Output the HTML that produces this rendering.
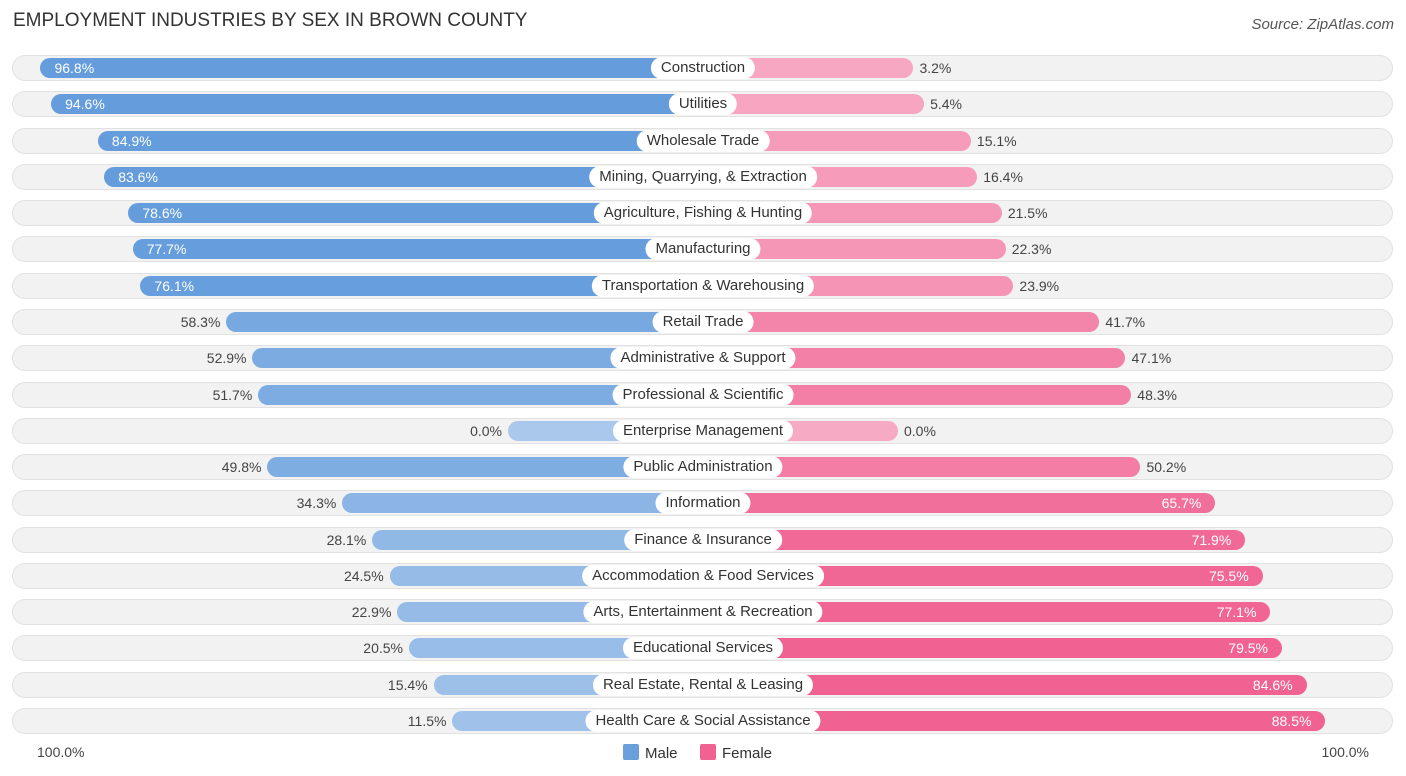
<!DOCTYPE html>
<html><head><meta charset="utf-8"><style>
body{margin:0;width:1406px;height:776px;background:#fff;font-family:"Liberation Sans",sans-serif;overflow:hidden;position:relative}
.t{position:absolute;left:13px;top:10px;font-size:19px;color:#333}
.src{position:absolute;right:12px;top:16px;font-size:15px;color:#555;font-style:italic}
.row{position:absolute;left:12px;width:1381px;height:26px;border-radius:13px;background:#f2f2f2;box-shadow:0 0 0 1px #e2e2e2 inset}
.bar{position:absolute;height:20px;border-radius:10px}
.lab{position:absolute;height:22px;line-height:22px;background:#fff;border-radius:11px;padding:0 10px;font-size:15px;color:#333;transform:translateX(-50%);white-space:nowrap}
.v{position:absolute;font-size:14px;line-height:20px;color:#444}
.ax{position:absolute;top:744px;font-size:14px;color:#444}
.lg{position:absolute;top:744px;font-size:15px;color:#333}
.sw{display:inline-block;width:16px;height:16px;border-radius:2px;vertical-align:-2px;margin-right:6px}
</style></head><body>
<div class="t">EMPLOYMENT INDUSTRIES BY SEX IN BROWN COUNTY</div>
<div class="src">Source: ZipAtlas.com</div>
<div id="rows"></div>
<div class="ax" style="left:37px">100.0%</div>
<div class="ax" style="right:37px">100.0%</div>
<div class="lg" style="left:623px"><span class="sw" style="background:#6a9fdc"></span>Male</div>
<div class="lg" style="left:700px"><span class="sw" style="background:#f06292"></span>Female</div>
<script>
const categories=["Construction","Utilities","Wholesale Trade","Mining, Quarrying, & Extraction","Agriculture, Fishing & Hunting","Manufacturing","Transportation & Warehousing","Retail Trade","Administrative & Support","Professional & Scientific","Enterprise Management","Public Administration","Information","Finance & Insurance","Accommodation & Food Services","Arts, Entertainment & Recreation","Educational Services","Real Estate, Rental & Leasing","Health Care & Social Assistance"];
const maleValues=[96.8,94.6,84.9,83.6,78.6,77.7,76.1,58.3,52.9,51.7,0.0,49.8,34.3,28.1,24.5,22.9,20.5,15.4,11.5];
const femaleValues=[3.2,5.4,15.1,16.4,21.5,22.3,23.9,41.7,47.1,48.3,0.0,50.2,65.7,71.9,75.5,77.1,79.5,84.6,88.5];
const cx=703,off=195,sc=4.83,y0=68,pitch=36.28;
function len(v){return off+v*sc;}
function mix(a,b,t){return 'rgb('+a.map((x,i)=>Math.round(x+(b[i]-x)*t)).join(',')+')';}
const root=document.getElementById('rows');
categories.forEach((c,i)=>{
  const y=y0+i*pitch;
  const r=document.createElement('div');r.className='row';r.style.top=(y-13)+'px';
  
  
  root.appendChild(r);
  const m=maleValues[i],f=femaleValues[i];
  const mb=document.createElement('div');mb.className='bar';
  const ml=len(m);mb.style.left=(cx-ml)+'px';mb.style.width=ml+'px';mb.style.top=(y-10)+'px';
  mb.style.background=mix([170,200,236],[100,156,220],Math.min(1,m/80));
  
  
  root.appendChild(mb);
  const fb=document.createElement('div');fb.className='bar';
  const fl=len(f);fb.style.left=cx+'px';fb.style.width=fl+'px';fb.style.top=(y-10)+'px';
  fb.style.background=mix([247,170,196],[240,98,146],Math.min(1,f/80));
  
  
  root.appendChild(fb);
  const lb=document.createElement('div');lb.className='lab';lb.textContent=c;lb.style.left=cx+'px';lb.style.top=(y-11)+'px';
  
  
  root.appendChild(lb);
  const mv=document.createElement('div');mv.className='v';mv.textContent=m.toFixed(1)+'%';mv.style.top=(y-10)+'px';
  if(m>70){mv.style.left=(cx-ml+14)+'px';mv.style.color='#fff';}else{mv.style.right=(1406-(cx-ml)+6)+'px';}
  
  
  root.appendChild(mv);
  const fv=document.createElement('div');fv.className='v';fv.textContent=f.toFixed(1)+'%';fv.style.top=(y-10)+'px';
  if(f>60){fv.style.right=(1406-(cx+fl)+14)+'px';fv.style.color='#fff';}else{fv.style.left=(cx+fl+6)+'px';}
  
  
  root.appendChild(fv);
});
</script>
</body></html>
